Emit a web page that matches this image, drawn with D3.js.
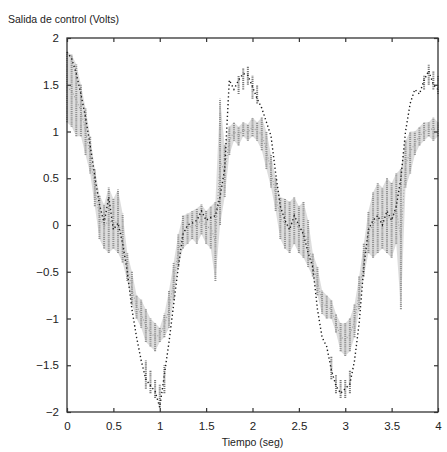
<!DOCTYPE html>
<html>
<head>
<meta charset="utf-8">
<script src="https://cdn.jsdelivr.net/npm/d3@7"></script>
<style>
  body { margin: 0; background: #fff; }
  svg { display: block; font-family: "Liberation Sans", Arial, sans-serif; }
</style>
</head>
<body>
<div class="wrapper"></div>
<script>
// sample times (seg)
const time = [0,0.05,0.1,0.15,0.2,0.25,0.3,0.35,0.4,0.45,0.5,0.55,0.6,0.65,0.7,0.75,0.8,0.85,0.9,0.95,
  1,1.05,1.1,1.15,1.2,1.25,1.3,1.35,1.4,1.45,1.5,1.55,1.6,1.65,1.7,1.75,1.8,1.85,1.9,1.95,
  2,2.05,2.1,2.15,2.2,2.25,2.3,2.35,2.4,2.45,2.5,2.55,2.6,2.65,2.7,2.75,2.8,2.85,2.9,2.95,
  3,3.05,3.1,3.15,3.2,3.25,3.3,3.35,3.4,3.45,3.5,3.55,3.6,3.65,3.7,3.75,3.8,3.85,3.9,3.95,4];

// black dotted signal (Volts)
const refSignal = [1.85,1.78,1.62,1.40,1.15,0.85,0.52,0.22,0.02,0.30,-0.05,0.02,-0.20,-0.50,-0.90,-1.20,-1.45,-1.65,-1.72,-1.78,
  -1.95,-1.60,-1.25,-0.85,-0.45,-0.10,0.00,0.02,0.05,0.15,0.05,0.08,0.10,0.30,0.60,1.55,1.45,1.55,1.62,1.60,
  1.48,1.35,1.25,1.10,0.95,0.55,0.20,0.05,-0.05,0.10,0.00,-0.10,-0.30,-0.45,-0.90,-1.20,-1.30,-1.55,-1.72,-1.80,
  -1.75,-1.70,-1.45,-1.05,-0.45,-0.05,0.05,0.10,0.00,0.15,0.05,0.20,0.50,1.00,1.30,1.45,1.40,1.55,1.65,1.50,1.45];

// gray noisy signal: lower and upper envelope (Volts)
const grayLo = [1.10,1.05,0.95,0.95,0.75,0.55,0.20,-0.15,-0.25,-0.30,-0.25,-0.30,-0.40,-0.60,-0.85,-1.00,-1.10,-1.25,-1.30,-1.35,
  -1.25,-1.20,-1.10,-0.80,-0.45,-0.25,-0.20,-0.15,-0.20,-0.10,-0.20,-0.25,-0.60,0.00,0.30,0.75,0.90,0.85,0.95,0.90,
  0.95,0.90,0.80,0.60,0.40,0.15,-0.15,-0.25,-0.30,-0.20,-0.30,-0.35,-0.45,-0.55,-0.75,-0.95,-1.00,-1.00,-1.15,-1.35,
  -1.40,-1.35,-1.20,-0.90,-0.55,-0.30,-0.35,-0.30,-0.25,-0.30,-0.35,-0.20,-0.90,0.40,0.55,0.75,0.85,0.90,0.95,0.90,0.95];
const grayHi = [1.85,1.82,1.72,1.50,1.25,0.95,0.60,0.32,0.22,0.40,0.28,0.38,0.12,-0.30,-0.50,-0.75,-0.80,-0.90,-1.00,-1.05,
  -1.10,-0.95,-0.70,-0.40,-0.10,0.10,0.12,0.15,0.18,0.22,0.15,0.20,0.25,1.35,0.85,1.05,1.10,1.05,1.10,1.08,
  1.15,1.10,1.15,1.00,0.75,0.50,0.30,0.28,0.25,0.30,0.20,0.25,0.05,-0.30,-0.45,-0.70,-0.75,-0.80,-0.95,-1.05,
  -1.05,-1.00,-0.85,-0.55,-0.20,0.15,0.35,0.45,0.40,0.50,0.45,0.55,0.60,0.90,1.00,1.00,1.05,1.10,1.10,1.15,1.10];

// extra gray clusters near the peaks
const clusterT  = [0.85,0.9,0.95,1,1.05, 1.85,1.9,1.95,2,2.05, 2.85,2.9,2.95,3,3.05, 3.85,3.9,3.95,4];
const clusterLo = [-1.75,-1.80,-1.85,-1.95,-1.80, 1.40,1.45,1.50,1.35,1.30, -1.65,-1.80,-1.85,-1.85,-1.80, 1.45,1.50,1.45,1.40];
const clusterHi = [-1.45,-1.55,-1.65,-1.70,-1.50, 1.60,1.68,1.70,1.60,1.50, -1.40,-1.60,-1.65,-1.65,-1.55, 1.60,1.72,1.65,1.60];

const xTicks = [0,0.5,1,1.5,2,2.5,3,3.5,4];
const yTicks = [-2,-1.5,-1,-0.5,0,0.5,1,1.5,2];

const dim = { width: 447, height: 452, marginTop: 38, marginRight: 9, marginBottom: 40, marginLeft: 67 };
dim.boundedWidth = dim.width - dim.marginLeft - dim.marginRight;
dim.boundedHeight = dim.height - dim.marginTop - dim.marginBottom;

const svg = d3.select('.wrapper').append('svg')
  .attr('width', dim.width)
  .attr('height', dim.height);

const x = d3.scaleLinear().domain([0, 4]).range([dim.marginLeft, dim.marginLeft + dim.boundedWidth]);
const y = d3.scaleLinear().domain([-2, 2]).range([dim.marginTop + dim.boundedHeight, dim.marginTop]);

const idx = d3.range(time.length);

// gray envelope fill
const band = d3.area()
  .x(i => x(time[i]))
  .y0(i => y(grayLo[i]))
  .y1(i => y(grayHi[i]));

svg.append('path')
  .attr('d', band(idx))
  .attr('fill', '#d2d2d2')
  .attr('opacity', 0.75);

// gray noisy marks
svg.append('g').selectAll('line')
  .data(idx)
  .enter().append('line')
  .attr('x1', i => x(time[i]))
  .attr('x2', i => x(time[i]))
  .attr('y1', i => y(grayLo[i]))
  .attr('y2', i => y(grayHi[i]))
  .attr('stroke', '#929292')
  .attr('stroke-width', 2)
  .attr('stroke-dasharray', '1.2,0.9');

svg.append('g').selectAll('line')
  .data(d3.range(clusterT.length))
  .enter().append('line')
  .attr('x1', i => x(clusterT[i]))
  .attr('x2', i => x(clusterT[i]))
  .attr('y1', i => y(clusterLo[i]))
  .attr('y2', i => y(clusterHi[i]))
  .attr('stroke', '#777')
  .attr('stroke-width', 2)
  .attr('stroke-dasharray', '1.2,0.9');

// gray centre dotted line
const mid = d3.line()
  .x(i => x(time[i]))
  .y(i => y((grayLo[i] + grayHi[i]) / 2));

svg.append('path')
  .attr('d', mid(idx))
  .attr('fill', 'none')
  .attr('stroke', '#a0a0a0')
  .attr('stroke-width', 1.1)
  .attr('stroke-dasharray', '1,2');

// black dotted line
const refLine = d3.line()
  .x(i => x(time[i]))
  .y(i => y(refSignal[i]));

svg.append('path')
  .attr('d', refLine(idx))
  .attr('fill', 'none')
  .attr('stroke', '#1a1a1a')
  .attr('stroke-width', 1.4)
  .attr('stroke-dasharray', '1.3,2.6');

// frame
svg.append('rect')
  .attr('x', x(0)).attr('y', y(2))
  .attr('width', x(4) - x(0)).attr('height', y(-2) - y(2))
  .attr('fill', 'none')
  .attr('stroke', '#333')
  .attr('stroke-width', 1.3);

// axes with inward ticks
const axBottom = svg.append('g')
  .attr('transform', `translate(0,${y(-2)})`)
  .call(d3.axisBottom(x).tickValues(xTicks).tickSizeInner(-4).tickSizeOuter(0).tickPadding(10).tickFormat(d3.format('')));
const axTop = svg.append('g')
  .attr('transform', `translate(0,${y(2)})`)
  .call(d3.axisTop(x).tickValues(xTicks).tickSizeInner(-4).tickSizeOuter(0).tickFormat(''));
const axLeft = svg.append('g')
  .attr('transform', `translate(${x(0)},0)`)
  .call(d3.axisLeft(y).tickValues(yTicks).tickSizeInner(-4).tickSizeOuter(0).tickPadding(8).tickFormat(d3.format('')));
const axRight = svg.append('g')
  .attr('transform', `translate(${x(4)},0)`)
  .call(d3.axisRight(y).tickValues(yTicks).tickSizeInner(-4).tickSizeOuter(0).tickFormat(''));

[axBottom, axTop, axLeft, axRight].forEach(g => {
  g.select('.domain').remove();
  g.selectAll('.tick line').attr('stroke', '#333').attr('stroke-width', 1.2);
  g.selectAll('.tick text')
    .attr('font-size', '11.5px')
    .attr('fill', '#222')
    .attr('font-family', '"Liberation Sans", Arial, sans-serif');
});

svg.append('text')
  .attr('x', 8)
  .attr('y', 23)
  .attr('font-size', '10.5px')
  .attr('fill', '#222')
  .text('Salida de control (Volts)');

svg.append('text')
  .attr('x', x(2))
  .attr('y', 446)
  .attr('text-anchor', 'middle')
  .attr('font-size', '10.5px')
  .attr('fill', '#222')
  .text('Tiempo (seg)');
</script>
</body>
</html>
